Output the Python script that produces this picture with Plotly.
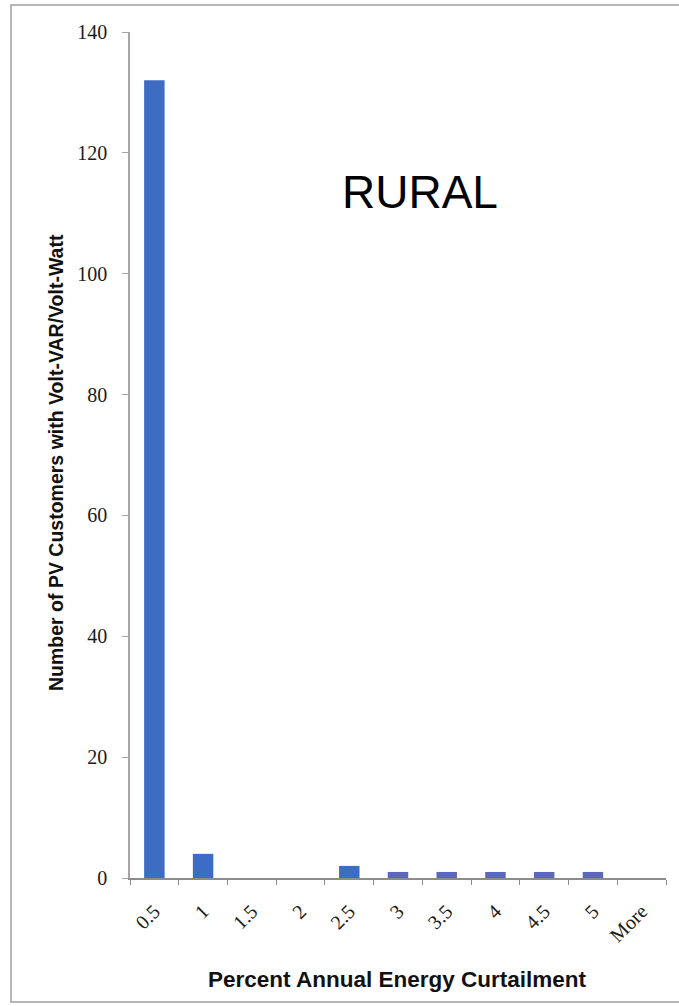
import plotly.graph_objects as go

categories = ["0.5", "1", "1.5", "2", "2.5", "3", "3.5", "4", "4.5", "5", "More"]
counts = [132, 4, 0, 0, 2, 1, 1, 1, 1, 1, 0]
y_ticks = [0, 20, 40, 60, 80, 100, 120, 140]

bar_colors = ["#3D6CC4" if c > 1 else "#5B68B5" for c in counts]

W, H = 679, 1006
L, R, T, B = 130, 13, 32, 128
pw, ph = W - L - R, H - T - B

def px(x):
    return (x - L) / pw

def py(y):
    return (H - B - y) / ph

fig = go.Figure(go.Bar(
    x=categories, y=counts,
    marker=dict(color=bar_colors, line=dict(width=0)),
    width=0.42,
))

fig.update_layout(
    width=W, height=H,
    margin=dict(l=L, r=R, t=T, b=B),
    paper_bgcolor="white", plot_bgcolor="white",
    showlegend=False,
    xaxis=dict(
        type="category", showgrid=False, showline=True, linecolor="#8C8C8C", linewidth=1.5,
        ticks="outside", ticklen=5, tickcolor="#8C8C8C", tickson="boundaries",
        tickangle=-45, ticklabelstandoff=12,
        tickfont=dict(family="Liberation Serif", size=20, color="#1a1a1a"),
        range=[-0.5, 10.5],
    ),
    yaxis=dict(
        range=[0, 140], tickvals=y_ticks, showgrid=False, zeroline=False,
        showline=True, linecolor="#A6A6A6", linewidth=1.5,
        ticks="outside", ticklen=6, tickcolor="#A6A6A6", ticklabelstandoff=11,
        tickfont=dict(family="Liberation Serif", size=20, color="#1a1a1a"),
    ),
    shapes=[dict(type="rect", xref="paper", yref="paper",
                 x0=px(11), x1=px(700), y0=py(1002), y1=py(5),
                 line=dict(color="#A0A0A0", width=1.5), layer="below")],
    annotations=[
        dict(text="RURAL", xref="paper", yref="paper", x=px(420), y=py(192),
             xanchor="center", yanchor="middle",
             showarrow=False, font=dict(family="Liberation Sans", size=46, color="black")),
        dict(text="<b>Percent Annual Energy Curtailment</b>", xref="paper", yref="paper",
             x=px(397), y=py(979), xanchor="center", yanchor="middle", showarrow=False,
             font=dict(family="Liberation Sans", size=22.5, color="#111111")),
        dict(text="<b>Number of PV Customers with Volt-VAR/Volt-Watt</b>", xref="paper", yref="paper",
             x=px(56), y=py(463), xanchor="center", yanchor="middle", showarrow=False, textangle=-90,
             font=dict(family="Liberation Sans", size=19.5, color="#111111")),
    ],
)

fig.write_html("out.html")
